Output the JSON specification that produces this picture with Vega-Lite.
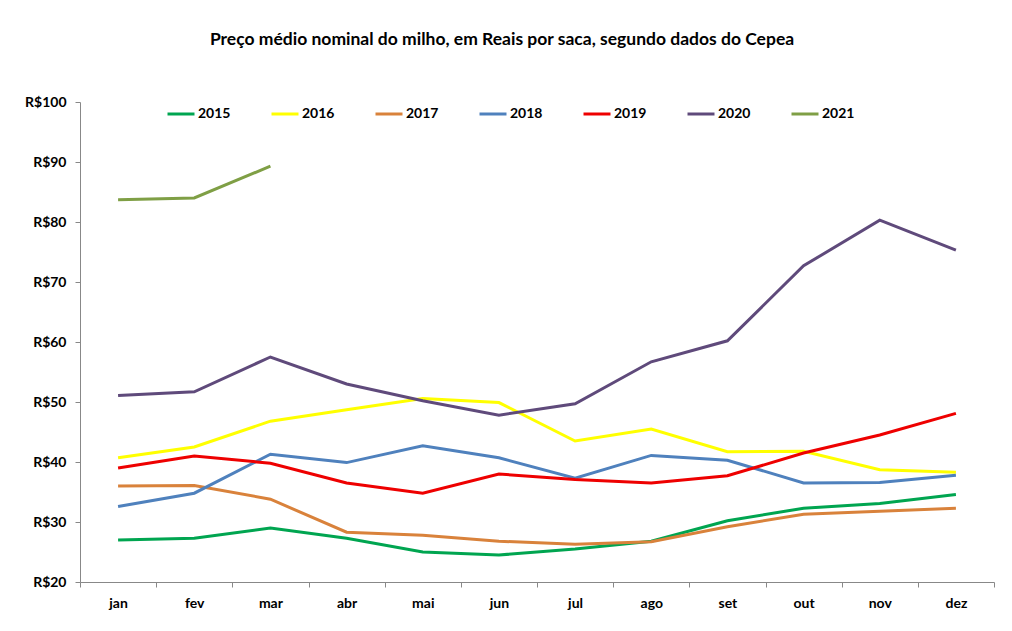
{
  "$schema": "https://vega.github.io/schema/vega-lite/v6.json",
  "width": 914,
  "height": 480,
  "autosize": {"type": "none"},
  "padding": {"left": 80, "top": 102, "right": 18, "bottom": 49},
  "background": "white",
  "title": {
    "text": "Preço médio nominal do milho, em Reais por saca, segundo dados do Cepea",
    "font": "Lato",
    "fontSize": 17.5,
    "fontWeight": "bold",
    "color": "#000000",
    "anchor": "middle",
    "frame": "group",
    "dx": -35,
    "offset": 47
  },
  "config": {
    "view": {"stroke": null},
    "font": "Lato"
  },
  "data": {
    "values": [
      {"mes": "jan", "ano": "2015", "preco": 27.0},
      {"mes": "fev", "ano": "2015", "preco": 27.3},
      {"mes": "mar", "ano": "2015", "preco": 29.0},
      {"mes": "abr", "ano": "2015", "preco": 27.3},
      {"mes": "mai", "ano": "2015", "preco": 25.0},
      {"mes": "jun", "ano": "2015", "preco": 24.5},
      {"mes": "jul", "ano": "2015", "preco": 25.5},
      {"mes": "ago", "ano": "2015", "preco": 26.8},
      {"mes": "set", "ano": "2015", "preco": 30.2},
      {"mes": "out", "ano": "2015", "preco": 32.3},
      {"mes": "nov", "ano": "2015", "preco": 33.1},
      {"mes": "dez", "ano": "2015", "preco": 34.6},
      {"mes": "jan", "ano": "2016", "preco": 40.7},
      {"mes": "fev", "ano": "2016", "preco": 42.5},
      {"mes": "mar", "ano": "2016", "preco": 46.8},
      {"mes": "abr", "ano": "2016", "preco": 48.7},
      {"mes": "mai", "ano": "2016", "preco": 50.6},
      {"mes": "jun", "ano": "2016", "preco": 49.9},
      {"mes": "jul", "ano": "2016", "preco": 43.5},
      {"mes": "ago", "ano": "2016", "preco": 45.5},
      {"mes": "set", "ano": "2016", "preco": 41.7},
      {"mes": "out", "ano": "2016", "preco": 41.8},
      {"mes": "nov", "ano": "2016", "preco": 38.7},
      {"mes": "dez", "ano": "2016", "preco": 38.3},
      {"mes": "jan", "ano": "2017", "preco": 36.0},
      {"mes": "fev", "ano": "2017", "preco": 36.1},
      {"mes": "mar", "ano": "2017", "preco": 33.8},
      {"mes": "abr", "ano": "2017", "preco": 28.3},
      {"mes": "mai", "ano": "2017", "preco": 27.8},
      {"mes": "jun", "ano": "2017", "preco": 26.8},
      {"mes": "jul", "ano": "2017", "preco": 26.3},
      {"mes": "ago", "ano": "2017", "preco": 26.7},
      {"mes": "set", "ano": "2017", "preco": 29.2},
      {"mes": "out", "ano": "2017", "preco": 31.3},
      {"mes": "nov", "ano": "2017", "preco": 31.8},
      {"mes": "dez", "ano": "2017", "preco": 32.3},
      {"mes": "jan", "ano": "2018", "preco": 32.6},
      {"mes": "fev", "ano": "2018", "preco": 34.8},
      {"mes": "mar", "ano": "2018", "preco": 41.3},
      {"mes": "abr", "ano": "2018", "preco": 39.9},
      {"mes": "mai", "ano": "2018", "preco": 42.7},
      {"mes": "jun", "ano": "2018", "preco": 40.7},
      {"mes": "jul", "ano": "2018", "preco": 37.3},
      {"mes": "ago", "ano": "2018", "preco": 41.1},
      {"mes": "set", "ano": "2018", "preco": 40.3},
      {"mes": "out", "ano": "2018", "preco": 36.5},
      {"mes": "nov", "ano": "2018", "preco": 36.6},
      {"mes": "dez", "ano": "2018", "preco": 37.8},
      {"mes": "jan", "ano": "2019", "preco": 39.0},
      {"mes": "fev", "ano": "2019", "preco": 41.0},
      {"mes": "mar", "ano": "2019", "preco": 39.8},
      {"mes": "abr", "ano": "2019", "preco": 36.5},
      {"mes": "mai", "ano": "2019", "preco": 34.8},
      {"mes": "jun", "ano": "2019", "preco": 38.0},
      {"mes": "jul", "ano": "2019", "preco": 37.1},
      {"mes": "ago", "ano": "2019", "preco": 36.5},
      {"mes": "set", "ano": "2019", "preco": 37.7},
      {"mes": "out", "ano": "2019", "preco": 41.5},
      {"mes": "nov", "ano": "2019", "preco": 44.5},
      {"mes": "dez", "ano": "2019", "preco": 48.1},
      {"mes": "jan", "ano": "2020", "preco": 51.1},
      {"mes": "fev", "ano": "2020", "preco": 51.7},
      {"mes": "mar", "ano": "2020", "preco": 57.5},
      {"mes": "abr", "ano": "2020", "preco": 53.0},
      {"mes": "mai", "ano": "2020", "preco": 50.2},
      {"mes": "jun", "ano": "2020", "preco": 47.8},
      {"mes": "jul", "ano": "2020", "preco": 49.7},
      {"mes": "ago", "ano": "2020", "preco": 56.7},
      {"mes": "set", "ano": "2020", "preco": 60.2},
      {"mes": "out", "ano": "2020", "preco": 72.7},
      {"mes": "nov", "ano": "2020", "preco": 80.3},
      {"mes": "dez", "ano": "2020", "preco": 75.3},
      {"mes": "jan", "ano": "2021", "preco": 83.7},
      {"mes": "fev", "ano": "2021", "preco": 84.0},
      {"mes": "mar", "ano": "2021", "preco": 89.3}
    ]
  },
  "mark": {"type": "line", "strokeWidth": 3},
  "encoding": {
    "x": {
      "field": "mes",
      "type": "nominal",
      "sort": ["jan", "fev", "mar", "abr", "mai", "jun", "jul", "ago", "set", "out", "nov", "dez"],
      "scale": {"type": "band", "paddingInner": 0, "paddingOuter": 0},
      "axis": {
        "title": null,
        "labelAngle": 0,
        "tickBand": "extent",
        "domainColor": "#888888",
        "tickColor": "#888888",
        "tickSize": 5,
        "labelPadding": 9,
        "labelFont": "Lato",
        "labelFontSize": 14,
        "labelFontWeight": "bold",
        "labelColor": "#000000",
        "grid": false
      }
    },
    "y": {
      "field": "preco",
      "type": "quantitative",
      "scale": {"domain": [20, 100], "nice": false, "zero": false},
      "axis": {
        "title": null,
        "values": [20, 30, 40, 50, 60, 70, 80, 90, 100],
        "labelExpr": "'R$' + datum.value",
        "domainColor": "#888888",
        "tickColor": "#888888",
        "tickSize": 5,
        "labelPadding": 9,
        "labelFont": "Lato",
        "labelFontSize": 14,
        "labelFontWeight": "bold",
        "labelColor": "#000000",
        "grid": false
      }
    },
    "color": {
      "field": "ano",
      "type": "nominal",
      "scale": {
        "domain": ["2015", "2016", "2017", "2018", "2019", "2020", "2021"],
        "range": ["#00A550", "#FFFF00", "#D9823B", "#4F81BD", "#EE0000", "#5F4A7B", "#7F9F45"]
      },
      "legend": {
        "title": null,
        "orient": "none",
        "direction": "horizontal",
        "legendX": 86,
        "legendY": -3,
        "symbolType": "stroke",
        "symbolSize": 729,
        "symbolStrokeWidth": 3,
        "labelOffset": 2,
        "labelFont": "Lato",
        "labelFontSize": 14,
        "labelFontWeight": "bold",
        "labelColor": "#000000",
        "columnPadding": 34
      }
    }
  }
}
